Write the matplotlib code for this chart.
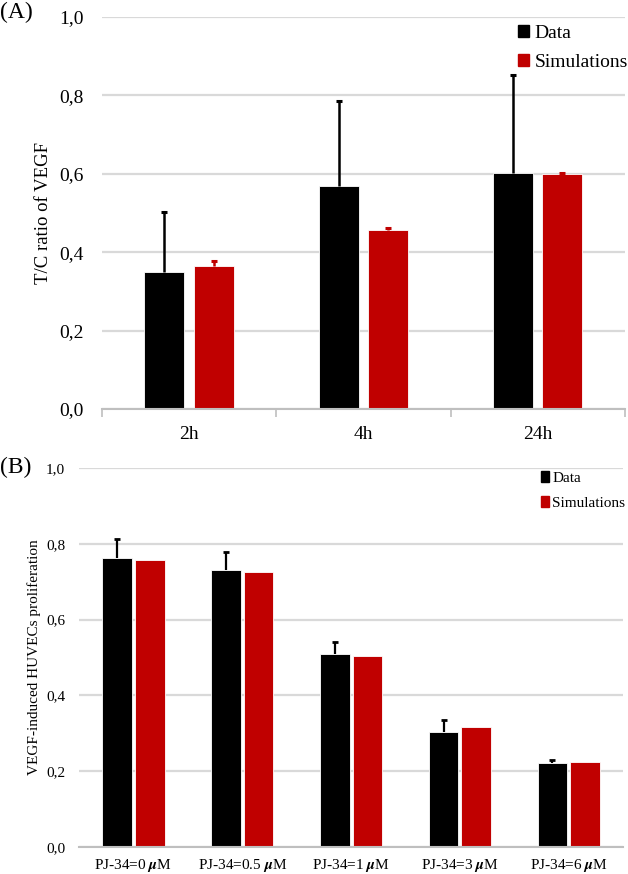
import numpy as np
import matplotlib
matplotlib.use("Agg")
import matplotlib.pyplot as plt
from matplotlib.patches import Patch

plt.rcParams['font.family'] = ['Liberation Serif', 'DejaVu Serif']
plt.rcParams['mathtext.fontset'] = 'stix'

# --- Panel A data: T/C ratio of VEGF ---
times = ["2h", "4h", "24h"]
vegf_data = [0.350, 0.570, 0.602]
vegf_data_err = [0.152, 0.215, 0.250]
vegf_sim = [0.365, 0.457, 0.600]
vegf_sim_err = [0.013, 0.005, 0.001]

# --- Panel B data: VEGF-induced HUVECs proliferation ---
doses = ["0", "0.5", "1", "3", "6"]
prolif_data = [0.762, 0.730, 0.508, 0.303, 0.222]
prolif_data_err = [0.051, 0.048, 0.034, 0.031, 0.008]
prolif_sim = [0.757, 0.725, 0.503, 0.317, 0.225]

BLACK = "#000000"
RED = "#c00000"
GRID = "#d9d9d9"

W, H = 628, 874
fig = plt.figure(figsize=(W / 100, H / 100), dpi=100)


def px_axes(left, top, right, bottom):
    """Axes placed from pixel edges of the 628x874 canvas."""
    return fig.add_axes([left / W, 1 - bottom / H, (right - left) / W, (bottom - top) / H])


def style_axes(ax, ncat):
    ax.set_ylim(0, 1.0)
    ax.set_xlim(-0.5, ncat - 0.5)
    ax.set_yticks(np.arange(0, 1.01, 0.2))
    ax.set_yticklabels([f"{v:.1f}".replace(".", ",") for v in np.arange(0, 1.01, 0.2)])
    ax.yaxis.grid(True, color=GRID, linewidth=1.6)
    ax.set_axisbelow(True)
    for side in ("top", "right", "left"):
        ax.spines[side].set_visible(False)
    ax.spines["bottom"].set_color("#bfbfbf")
    ax.spines["bottom"].set_linewidth(1.5)
    ax.tick_params(axis="y", length=0)
    ax.tick_params(axis="x", which="major", length=0)


def upper_only(bars):
    # plus-only error bars: hide the cap sitting on the bar top
    if bars.errorbar is not None:
        caps = bars.errorbar.lines[1]
        if caps:
            caps[0].set_visible(False)


# --- Panel A ---
axA = px_axes(102, 17, 625, 409)
xa = np.arange(len(times))
style_axes(axA, len(times))
b1 = axA.bar(xa - 0.143, vegf_data, 0.23, color=BLACK, edgecolor="white", linewidth=0.6,
             yerr=[np.zeros(len(xa)), vegf_data_err], ecolor=BLACK,
             error_kw=dict(elinewidth=1.8, capsize=2.5, capthick=2.2))
b2 = axA.bar(xa + 0.141, vegf_sim, 0.23, color=RED, edgecolor="white", linewidth=0.6,
             yerr=[np.zeros(len(xa)), vegf_sim_err], ecolor=RED,
             error_kw=dict(elinewidth=1.8, capsize=2.5, capthick=2.2))
upper_only(b1)
upper_only(b2)
axA.set_xticks(xa)
axA.set_xticklabels(times, fontsize=14)
axA.set_xticks(np.arange(-0.5, len(times)), minor=True)
axA.tick_params(axis="x", which="minor", length=6, width=1.2, color="#bfbfbf")
axA.tick_params(axis="x", which="major", pad=12.5)
axA.tick_params(axis="y", labelsize=14, pad=13)
axA.set_ylabel("T/C ratio of VEGF", fontsize=13.5)
axA.yaxis.set_label_coords(-0.095, 0.5)
axA.legend(handles=[Patch(color=BLACK, label="Data"), Patch(color=RED, label="Simulations")],
           loc="upper left", bbox_to_anchor=(518 / W, 1 - 25 / H),
           bbox_transform=fig.transFigure, frameon=False, fontsize=14,
           handlelength=0.55, handleheight=0.6, handletextpad=0.3,
           borderpad=0, borderaxespad=0, labelspacing=0.6)

# --- Panel B ---
axB = px_axes(79, 468, 623, 847)
xb = np.arange(len(doses))
style_axes(axB, len(doses))
b3 = axB.bar(xb - 0.149, prolif_data, 0.272, color=BLACK, edgecolor="white", linewidth=0.6,
             yerr=[np.zeros(len(xb)), prolif_data_err], ecolor=BLACK,
             error_kw=dict(elinewidth=1.6, capsize=2.2, capthick=2.0))
upper_only(b3)
axB.bar(xb + 0.150, prolif_sim, 0.272, color=RED, edgecolor="white", linewidth=0.6)
axB.set_xticks(xb)
axB.set_xticklabels([rf"PJ-34={d} $\boldsymbol{{\mu}}$M" for d in doses], fontsize=11)
axB.tick_params(axis="x", which="major", pad=7.5)
axB.tick_params(axis="y", labelsize=11, pad=10)
axB.set_ylabel("VEGF-induced HUVECs proliferation", fontsize=11)
axB.yaxis.set_label_coords(-0.07, 0.5)
axB.legend(handles=[Patch(color=BLACK, label="Data"), Patch(color=RED, label="Simulations")],
           loc="upper left", bbox_to_anchor=(541 / W, 1 - 471 / H),
           bbox_transform=fig.transFigure, frameon=False, fontsize=11,
           handlelength=0.55, handleheight=0.7, handletextpad=0.2,
           borderpad=0, borderaxespad=0, labelspacing=0.75)

# panel letters
fig.text(0.0, 1 - 12 / H, "(A)", fontsize=17, va="center", ha="left")
fig.text(0.0, 1 - 467 / H, "(B)", fontsize=17, va="center", ha="left")

fig.savefig("out.png", dpi=100)
